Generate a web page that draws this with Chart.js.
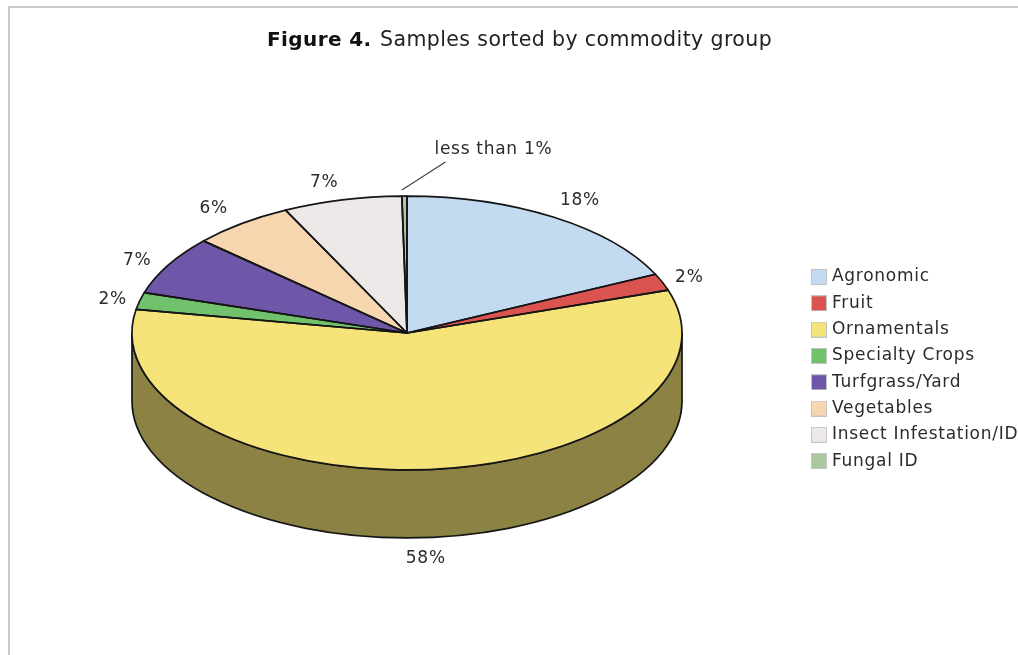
<!DOCTYPE html>
<html>
<head>
<meta charset="utf-8">
<title>Samples sorted by commodity group</title>
<script src="https://cdn.jsdelivr.net/npm/chart.js@4"></script>
<style>
  html, body { margin: 0; padding: 0; background: #fff; }
  #frame { position: absolute; left: 8px; top: 6px; right: 0; bottom: 0;
           border-left: 2px solid #c9c9c9; border-top: 2px solid #c9c9c9; }
  canvas { position: absolute; left: 0; top: 0; }
</style>
</head>
<body>
<div id="frame"></div>
<canvas id="pie" width="1018" height="655"></canvas>
<script>
// Commodity groups and their share of samples, in percent.
const categories = ['Agronomic', 'Fruit', 'Ornamentals', 'Specialty Crops',
                    'Turfgrass/Yard', 'Vegetables', 'Insect Infestation/ID', 'Fungal ID'];
const shares = [18, 2, 58, 2, 7, 6, 7, 0.3];
const shareLabels = ['18%', '2%', '58%', '2%', '7%', '6%', '7%', 'less than 1%'];

// Two tones per slice give the fine dithered fill.
const sliceTones = [
  ['#bcd6ef', '#cadff3'], ['#d94f4b', '#dd5a55'], ['#f6e67f', '#f4e274'], ['#6fc06a', '#74c46f'],
  ['#6d55a8', '#7059ab'], ['#f8d8b2', '#f7d6ae'], ['#f1eded', '#e9e5e5'], ['#a9c79f', '#aecba4']
];
const wallTones = [
  ['#6d7c8a', '#75838f'], ['#7e2e2b', '#823432'], ['#8f8549', '#87803f'], ['#40703d', '#447240'],
  ['#3f3161', '#413463'], ['#907d67', '#8f7c65'], ['#8c8989', '#878484'], ['#627460', '#65765f']
];

// Offset of each value label from the rim point at its slice's middle.
const labelOffsets = [[26, -17], [27, -5], [-1, 89], [-27, -1], [-31, -5], [-28, -15], [-18, -17], [89, -46]];

const FONT = '"DejaVu Sans", Verdana, sans-serif';
const TILT = 0.498;      // vertical squash of the pie disc
const DEPTH = 68;        // height of the side wall
const INK = '#151515';
const TEXT = '#2b2b2b';

function dither(tones) {
  const c = document.createElement('canvas');
  c.width = c.height = 2;
  const g = c.getContext('2d');
  g.fillStyle = tones[0]; g.fillRect(0, 0, 2, 2);
  g.fillStyle = tones[1]; g.fillRect(0, 0, 1, 1); g.fillRect(1, 1, 1, 1);
  return g.createPattern(c, 'repeat');
}

// Same dither, compensated so it stays one pixel fine inside the squashed disc.
function squashedDither(tones) {
  const p = dither(tones);
  p.setTransform(new DOMMatrix().scale(1, 1 / TILT));
  return p;
}

function swatch(tones) {
  const c = document.createElement('canvas');
  c.width = c.height = 16;
  const g = c.getContext('2d');
  g.fillStyle = dither(tones); g.fillRect(0, 0, 16, 16);
  g.strokeStyle = '#c4c4c4'; g.lineWidth = 1; g.strokeRect(0.5, 0.5, 15, 15);
  return c;
}

const ctx = document.getElementById('pie').getContext('2d');
const sliceFills = sliceTones.map(squashedDither);
const wallFills = wallTones.map(dither);
const swatches = sliceTones.map(swatch);

// Traces an elliptical path in device space so the stroke keeps an even width.
function tiltedPath(g, arc, yShift, from, to, wedge, backwards) {
  g.save();
  g.translate(arc.x, arc.y + yShift);
  g.scale(1, TILT);
  if (wedge) g.moveTo(0, 0);
  g.arc(0, 0, arc.outerRadius, from, to, !!backwards);
  if (wedge) g.closePath();
  g.restore();
}

const tiltedPie = {
  id: 'tiltedPie',
  afterLayout(chart) {
    // The legend sits in its own column to the right of the pie.
    const legend = chart.legend;
    const pad = legend.options.labels.padding;
    legend.left = 814.5 - pad;
    legend.top = 268.5 - pad;
    legend.right = 1018;
    legend.bottom = 500;
  },
  beforeDraw(chart) {
    chart.ctx.letterSpacing = '0.72px';
  },
  beforeDatasetsDraw(chart) {
    const g = chart.ctx;
    const arcs = chart.getDatasetMeta(0).data;
    // Side wall: only the front half of the rim is visible.
    arcs.forEach((arc, i) => {
      const from = Math.max(arc.startAngle, 0);
      const to = Math.min(arc.endAngle, Math.PI);
      if (to <= from) return;
      g.beginPath();
      tiltedPath(g, arc, 0, from, to, false, false);
      tiltedPath(g, arc, DEPTH, to, from, false, true);
      g.closePath();
      g.fillStyle = wallFills[i];
      g.fill();
    });
    const a = arcs[0];
    g.beginPath();
    tiltedPath(g, a, 0, 0, Math.PI, false, false);
    tiltedPath(g, a, DEPTH, Math.PI, 0, false, true);
    g.closePath();
    g.lineWidth = 1.7;
    g.strokeStyle = INK;
    g.stroke();
    // The disc itself is drawn by the controller inside this squash.
    g.save();
    g.translate(a.x, a.y);
    g.scale(1, TILT);
    g.translate(-a.x, -a.y);
  },
  afterDatasetsDraw(chart) {
    const g = chart.ctx;
    g.restore();
    const arcs = chart.getDatasetMeta(0).data;
    g.lineWidth = 1.7;
    g.strokeStyle = INK;
    g.lineJoin = 'round';
    arcs.forEach(arc => {
      g.beginPath();
      tiltedPath(g, arc, 0, arc.startAngle, arc.endAngle, true, false);
      g.stroke();
    });

    // Value labels, anchored to each slice's mid-angle on the rim.
    g.font = '17px ' + FONT;
    g.letterSpacing = '0.72px';
    g.fillStyle = TEXT;
    g.textAlign = 'center';
    g.textBaseline = 'middle';
    arcs.forEach((arc, i) => {
      const mid = (arc.startAngle + arc.endAngle) / 2;
      const rimX = arc.x + arc.outerRadius * Math.cos(mid);
      const rimY = arc.y + arc.outerRadius * TILT * Math.sin(mid);
      g.fillText(shareLabels[i], rimX + labelOffsets[i][0], rimY + labelOffsets[i][1]);
      if (i === arcs.length - 1) {
        // Leader line for the sliver too thin to carry its own label.
        g.beginPath();
        g.moveTo(rimX - 2.5, rimY - 6);
        g.lineTo(rimX + 41, rimY - 34);
        g.lineWidth = 1.2;
        g.strokeStyle = '#444';
        g.stroke();
      }
    });

    // Heading with a bold figure number.
    g.textAlign = 'left';
    g.textBaseline = 'alphabetic';
    g.letterSpacing = '0.4px';
    g.fillStyle = '#111';
    g.font = 'bold 20px ' + FONT;
    g.fillText('Figure 4.', 267, 46);
    const w = g.measureText('Figure 4.').width;
    g.font = '20.5px ' + FONT;
    g.fillStyle = '#222';
    g.fillText('Samples sorted by commodity group', 267 + w + 8.5, 46);
  }
};

new Chart(ctx, {
  type: 'pie',
  data: {
    labels: categories,
    datasets: [{ data: shares, backgroundColor: sliceFills, borderWidth: 0 }]
  },
  plugins: [tiltedPie],
  options: {
    responsive: false,
    animation: false,
    events: [],
    layout: { padding: { left: 132, right: 336, top: 58, bottom: 47 } },
    plugins: {
      tooltip: { enabled: false },
      title: { display: false },
      legend: {
        position: 'chartArea',
        align: 'start',
        labels: {
          usePointStyle: true,
          boxWidth: 9,
          boxHeight: 9,
          padding: 9.3,
          color: TEXT,
          font: { family: FONT, size: 17 },
          generateLabels: () => categories.map((text, index) => ({
            text, index, pointStyle: swatches[index], fontColor: TEXT, hidden: false, lineWidth: 0
          }))
        }
      }
    }
  }
});
</script>
</body>
</html>
